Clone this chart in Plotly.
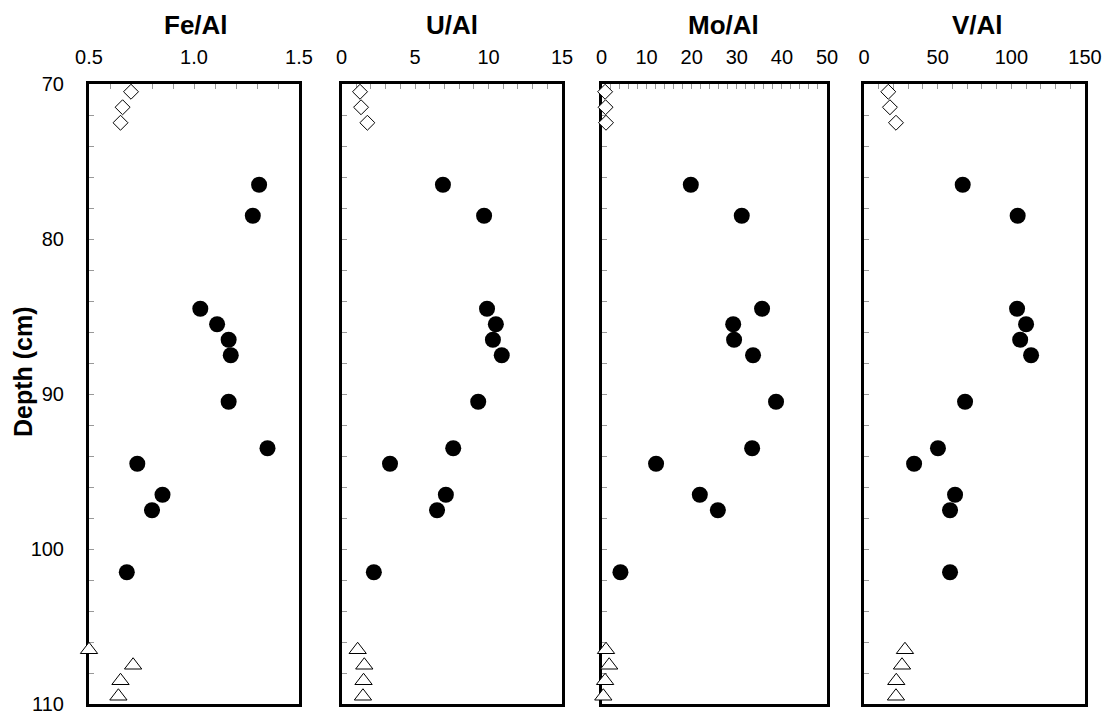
import plotly.graph_objects as go

# ---- data ----
depth_top = [70.5, 71.5, 72.5]
depth_mid = [76.5, 78.5, 84.5, 85.5, 86.5, 87.5, 90.5, 93.5, 94.5, 96.5, 97.5, 101.5]
depth_bot = [106.5, 107.5, 108.5, 109.5]

fe_top = [0.70, 0.66, 0.65]
fe_mid = [1.31, 1.28, 1.03, 1.11, 1.165, 1.175, 1.165, 1.35, 0.73, 0.85, 0.80, 0.68]
fe_bot = [0.50, 0.71, 0.65, 0.64]

u_top = [1.26, 1.33, 1.76]
u_mid = [6.9, 9.7, 9.9, 10.5, 10.3, 10.9, 9.3, 7.6, 3.3, 7.1, 6.5, 2.2]
u_bot = [1.1, 1.55, 1.5, 1.46]

mo_top = [0.8, 0.9, 1.0]
mo_mid = [19.8, 31.1, 35.6, 29.2, 29.4, 33.6, 38.7, 33.4, 12.1, 21.8, 25.8, 4.2]
mo_bot = [1.0, 1.7, 0.8, 0.4]

v_top = [16.5, 17.6, 21.7]
v_mid = [67, 104.3, 103.9, 110, 106, 113.4, 68.6, 50.2, 34, 61.8, 58.4, 58.4]
v_bot = [27.8, 25.8, 21.9, 21.7]

titles = ["Fe/Al", "U/Al", "Mo/Al", "V/Al"]
x_ranges = [[0.5, 1.5], [0, 15], [0, 50], [0, 150]]
x_major = [0.5, 5, 10, 50]
x_minor = [0.1, 1, 2, 10]
x_fmt = [".1f", "", "", ""]
y_range = [110, 70]

series = [
    (fe_top, fe_mid, fe_bot),
    (u_top, u_mid, u_bot),
    (mo_top, mo_mid, mo_bot),
    (v_top, v_mid, v_bot),
]

W, H = 1109, 716
panels_px = [(89, 299), (341.5, 562), (601.5, 827), (864, 1085)]
title_x_px = [196, 452, 723, 977]
top_px, bot_px = 84, 704
ydom = [1 - bot_px / H, 1 - top_px / H]

FONT = "Liberation Sans, Arial, sans-serif"

fig = go.Figure()
layout = dict(
    width=W, height=H,
    margin=dict(l=0, r=0, t=0, b=0, autoexpand=False),
    paper_bgcolor="white", plot_bgcolor="white",
    showlegend=False,
    font=dict(family=FONT, color="black", size=20),
    annotations=[],
)

for i, (top, mid, bot) in enumerate(series):
    n = "" if i == 0 else str(i + 1)
    xa, ya = "x" + n, "y" + n
    fig.add_trace(go.Scatter(x=top, y=depth_top, xaxis=xa, yaxis=ya, mode="markers",
                             cliponaxis=False,
                             marker=dict(symbol="diamond", size=11.5, color="white",
                                         line=dict(color="black", width=1))))
    fig.add_trace(go.Scatter(x=mid, y=depth_mid, xaxis=xa, yaxis=ya, mode="markers",
                             cliponaxis=False,
                             marker=dict(symbol="circle", size=16, color="black",
                                         line=dict(color="black", width=0))))
    fig.add_trace(go.Scatter(x=bot, y=depth_bot, xaxis=xa, yaxis=ya, mode="markers",
                             cliponaxis=False,
                             marker=dict(symbol="triangle-up", size=15, color="white",
                                         line=dict(color="black", width=1))))
    x0, x1 = panels_px[i]
    layout["xaxis" + n] = dict(
        domain=[x0 / W, x1 / W], anchor=ya, side="top", automargin=False,
        range=x_ranges[i], dtick=x_major[i], tick0=x_ranges[i][0], tickformat=x_fmt[i],
        ticks="inside", ticklen=5, tickwidth=1, tickcolor="#999999",
        minor=dict(dtick=x_minor[i], ticks="inside", ticklen=5, tickwidth=1, tickcolor="#999999"),
        showline=True, linecolor="black", linewidth=3, mirror=True,
        showgrid=False, zeroline=False, ticklabelstandoff=9,
        tickfont=dict(size=20, family=FONT, color="black"),
        layer="below traces",
    )
    layout["yaxis" + n] = dict(
        domain=ydom, anchor=xa, range=y_range, dtick=10, tick0=70, automargin=False,
        ticks="inside", ticklen=5, tickwidth=1, tickcolor="#999999",
        minor=dict(dtick=2, ticks="inside", ticklen=5, tickwidth=1, tickcolor="#999999"),
        showline=True, linecolor="black", linewidth=3, mirror=True,
        showgrid=False, zeroline=False,
        showticklabels=(i == 0), ticklabelstandoff=18,
        tickfont=dict(size=20, family=FONT, color="black"),
        layer="below traces",
    )
    layout["annotations"].append(dict(
        text="<b>%s</b>" % titles[i], x=title_x_px[i] / W, y=1 - 25 / H,
        xref="paper", yref="paper", xanchor="center", yanchor="middle",
        showarrow=False, font=dict(size=26, family=FONT, color="black")))

layout["annotations"].append(dict(
    text="<b>Depth (cm)</b>", x=23 / W, y=1 - 372 / H, xref="paper", yref="paper",
    xanchor="center", yanchor="middle", textangle=-90, showarrow=False,
    font=dict(size=25, family=FONT, color="black")))

fig.update_layout(**layout)
fig.write_html("out.html")
